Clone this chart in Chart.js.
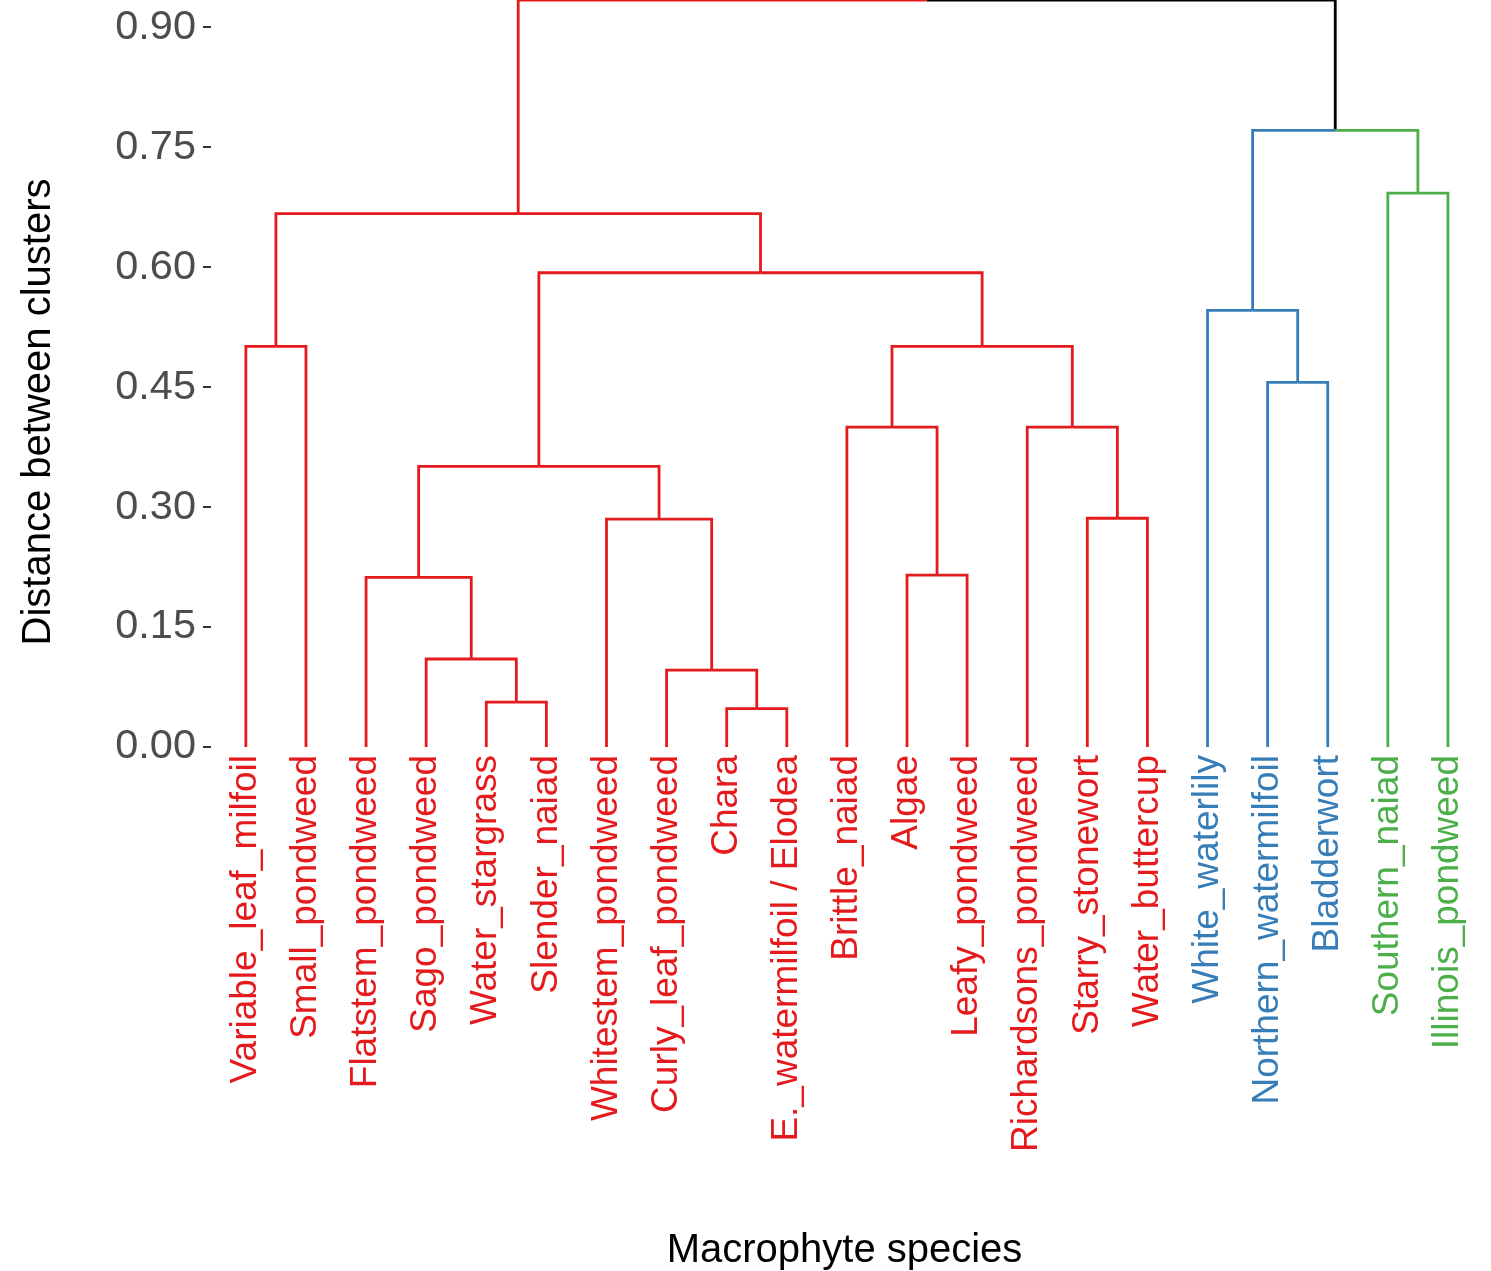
<!DOCTYPE html>
<html>
<head>
<meta charset="utf-8">
<script src="https://cdn.jsdelivr.net/npm/chart.js@4/dist/chart.umd.min.js"></script>
<style>
    body { margin: 0; background: #fff; }
    #wrap { width: 1491px; height: 1271px; }
</style>
</head>
<body>
<div id="wrap"><canvas id="dend"></canvas></div>
<script>
// leaves, in dendrogram order
let species = ['Variable_leaf_milfoil', 'Small_pondweed', 'Flatstem_pondweed', 'Sago_pondweed',
    'Water_stargrass', 'Slender_naiad', 'Whitestem_pondweed', 'Curly_leaf_pondweed', 'Chara',
    'E._watermilfoil / Elodea', 'Brittle_naiad', 'Algae', 'Leafy_pondweed', 'Richardsons_pondweed',
    'Starry_stonewort', 'Water_buttercup', 'White_waterlily', 'Northern_watermilfoil',
    'Bladderwort', 'Southern_naiad', 'Illinois_pondweed'];

// cluster (k = 3) of each leaf
let cluster = [1, 1, 1, 1, 1, 1, 1, 1, 1, 1, 1, 1, 1, 1, 1, 1, 2, 2, 2, 3, 3];
let clusterColors = ['#E41A1C', '#377EB8', '#4DAF4A'];

// hclust style merges: negative = leaf number, positive = earlier merge row
let mergeLeft  = [-9, -5, -8, -4, -3, -12, -7, -15, 5, -11, -14, -18, -1, 10, -17, 9, 13, -20, 15, 17];
let mergeRight = [-10, -6, 1, 2, 4, -13, 3, -16, 7, 6, 8, -19, -2, 11, 12, 14, 16, -21, 18, 19];
let mergeHeight = [0.048, 0.056, 0.096, 0.110, 0.212, 0.215, 0.285, 0.286, 0.351, 0.400, 0.400,
    0.456, 0.501, 0.501, 0.546, 0.593, 0.667, 0.6925, 0.771, 0.934];

let yTicks = [0, 0.15, 0.30, 0.45, 0.60, 0.75, 0.90];

// node position / height / colour
function nodeInfo(ref) {
    if (ref < 0) {
        let i = -ref;
        return { x: i, h: 0, col: clusterColors[cluster[i - 1] - 1] };
    }
    let a = nodeInfo(mergeLeft[ref - 1]);
    let b = nodeInfo(mergeRight[ref - 1]);
    return { x: (a.x + b.x) / 2, h: mergeHeight[ref - 1], col: a.col === b.col ? a.col : '#000000' };
}

// one elbow per branch: from parent's middle, across, then down to the child
let datasets = [];
for (let m = 1; m <= mergeHeight.length; m++) {
    let parent = nodeInfo(m);
    [mergeLeft[m - 1], mergeRight[m - 1]].forEach(function (c) {
        let child = nodeInfo(c);
        datasets.push({
            data: [
                { x: parent.x, y: parent.h },
                { x: child.x, y: parent.h },
                { x: child.x, y: child.h }
            ],
            borderColor: child.col,
            borderWidth: 2.8,
            borderJoinStyle: 'miter',
            pointRadius: 0,
            tension: 0,
            fill: false
        });
    });
}

// y axis title sits a bit lower than the plot centre
let yTitle = {
    id: 'yTitle',
    afterDraw(chart) {
        let ctx = chart.ctx;
        ctx.save();
        ctx.translate(39, 412);
        ctx.rotate(-Math.PI / 2);
        ctx.font = '40px "Liberation Sans", Arial, sans-serif';
        ctx.fillStyle = '#000000';
        ctx.textAlign = 'center';
        ctx.textBaseline = 'middle';
        ctx.fillText('Distance between clusters', 0, 0);
        ctx.restore();
    }
};

// no extra room for half labels at the ends of the axes
function noEndPadding(scale) {
    scale.paddingTop = 0;
    scale.paddingBottom = 0;
    scale.paddingLeft = 0;
    scale.paddingRight = 0;
}

Chart.defaults.font.family = '"Liberation Sans", Arial, sans-serif';

new Chart(document.getElementById('dend'), {
    type: 'line',
    data: { datasets: datasets },
    options: {
        responsive: true,
        maintainAspectRatio: false,
        animation: false,
        layout: { padding: { left: 0, right: 13, top: 0, bottom: 0 } },
        plugins: { legend: { display: false }, tooltip: { enabled: false } },
        scales: {
            x: {
                type: 'linear',
                min: 0.42,
                max: 21.5,
                grid: { display: false },
                border: { display: false },
                afterBuildTicks: function (scale) {
                    scale.ticks = species.map(function (s, i) { return { value: i + 1 }; });
                },
                afterFit: function (scale) {
                    scale.height = 524;
                    noEndPadding(scale);
                },
                ticks: {
                    autoSkip: false,
                    minRotation: 90,
                    maxRotation: 90,
                    padding: 0,
                    font: { size: 37 },
                    color: function (ctx) {
                        return clusterColors[cluster[ctx.index] - 1];
                    },
                    callback: function (v) { return species[v - 1]; }
                },
                title: {
                    display: true,
                    text: 'Macrophyte species',
                    color: '#000000',
                    font: { size: 40, lineHeight: 1 },
                    padding: { top: 0, bottom: 0 }
                }
            },
            y: {
                min: 0,
                max: 0.934,
                grid: {
                    drawOnChartArea: false,
                    drawTicks: true,
                    tickLength: 8,
                    tickColor: '#333333',
                    lineWidth: 2
                },
                border: { display: false },
                afterBuildTicks: function (scale) {
                    scale.ticks = yTicks.map(function (v) { return { value: v }; });
                },
                afterFit: function (scale) {
                    scale.width = 211;
                    noEndPadding(scale);
                },
                ticks: {
                    padding: 7,
                    color: '#4D4D4D',
                    font: { size: 41.5 },
                    callback: function (v) { return v.toFixed(2); }
                }
            }
        }
    },
    plugins: [yTitle]
});
</script>
</body>
</html>
